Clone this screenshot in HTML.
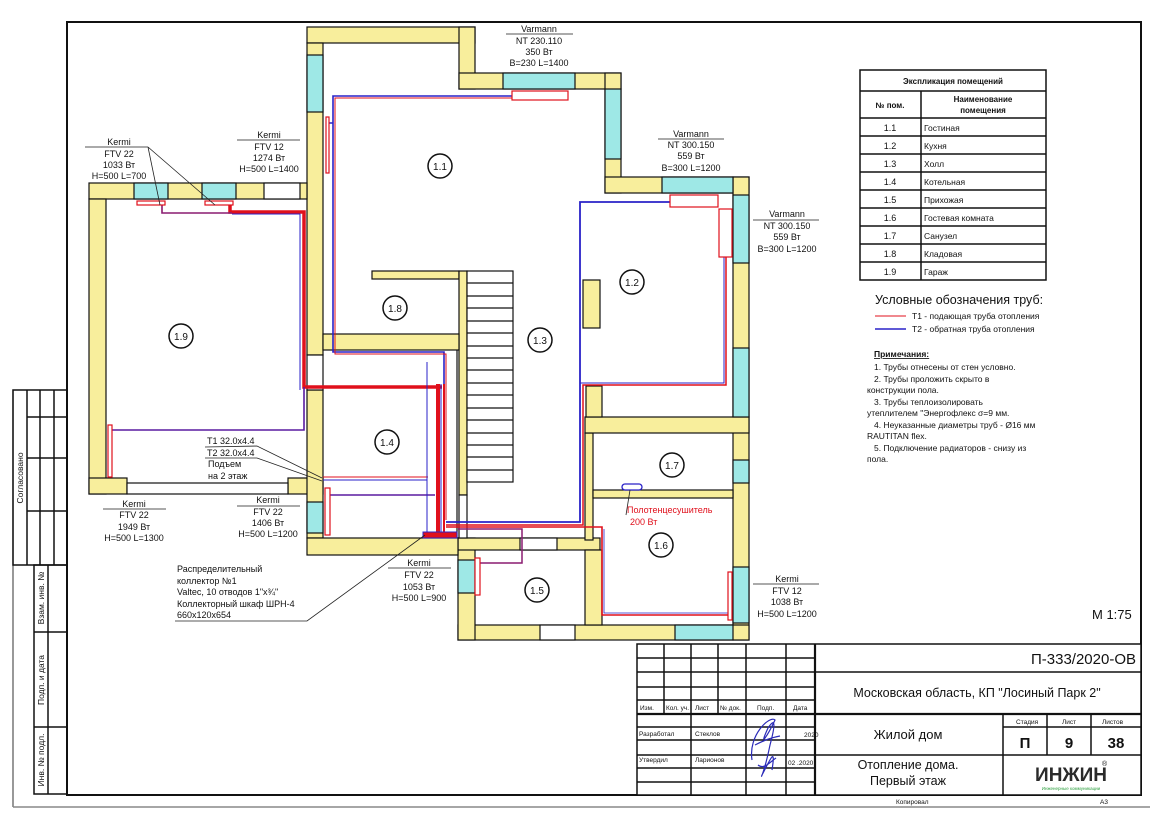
<!DOCTYPE html>
<html><head><meta charset="utf-8"><style>
html,body{margin:0;padding:0;background:#fff}
svg{display:block}
text{font-family:"Liberation Sans",sans-serif;fill:#111}
</style></head><body>
<svg width="1166" height="816" viewBox="0 0 1166 816" xmlns="http://www.w3.org/2000/svg">
<rect width="1166" height="816" fill="#fff"/>
<!-- frame -->
<rect x="67" y="22" width="1074" height="773" fill="none" stroke="#111" stroke-width="2"/>
<line x1="13" y1="390" x2="13" y2="807" stroke="#555" stroke-width="1.2"/>
<line x1="13" y1="807" x2="1150" y2="807" stroke="#888" stroke-width="1.5"/>
<g stroke="#111" stroke-width="1.5" fill="none">
<rect x="13" y="390" width="54" height="175"/>
<line x1="27" y1="390" x2="27" y2="565"/><line x1="40" y1="390" x2="40" y2="565"/><line x1="54" y1="390" x2="54" y2="565"/>
<line x1="27" y1="417" x2="67" y2="417"/><line x1="27" y1="458" x2="67" y2="458"/><line x1="27" y1="511" x2="67" y2="511"/>
<rect x="34" y="565" width="33" height="229"/>
<line x1="48" y1="565" x2="48" y2="794"/>
<line x1="34" y1="632" x2="67" y2="632"/><line x1="34" y1="727" x2="67" y2="727"/>
</g>
<g font-size="8.5">
<text transform="translate(23,478) rotate(-90)" text-anchor="middle">Согласовано</text>
<text transform="translate(44,598) rotate(-90)" text-anchor="middle">Взам. инв. №</text>
<text transform="translate(44,680) rotate(-90)" text-anchor="middle">Подп. и дата</text>
<text transform="translate(44,760) rotate(-90)" text-anchor="middle">Инв. № подл.</text>
</g>

<!-- walls -->
<g stroke="#111" stroke-width="1.2">
<g fill="#f8ee9c">
<rect x="307" y="27" width="168" height="16"/>
<rect x="307" y="43" width="16" height="312"/>
<rect x="459" y="27" width="16" height="62"/>
<rect x="459" y="73" width="162" height="16"/>
<rect x="605" y="73" width="16" height="120"/>
<rect x="605" y="177" width="144" height="16"/>
<rect x="733" y="177" width="16" height="463"/>
<rect x="458" y="625" width="291" height="15"/>
<rect x="458" y="538" width="17" height="102"/>
<rect x="458" y="538" width="142" height="12"/>
<rect x="585" y="550" width="17" height="75"/>
<rect x="585" y="433" width="8" height="107"/>
<rect x="593" y="490" width="140" height="8"/>
<rect x="585" y="417" width="164" height="16"/>
<rect x="586" y="386" width="16" height="31"/>
<rect x="583" y="280" width="17" height="48"/>
<rect x="89" y="183" width="218" height="16"/>
<rect x="89" y="199" width="17" height="295"/>
<rect x="89" y="478" width="38" height="16"/>
<rect x="288" y="478" width="35" height="16"/>
<rect x="307" y="390" width="16" height="148"/>
<rect x="307" y="538" width="151" height="17"/>
<rect x="372" y="271" width="87" height="8"/>
<rect x="459" y="271" width="8" height="224"/>
<rect x="323" y="334" width="136" height="16"/>
</g>
<g fill="#9ee8e6">
<rect x="307" y="55" width="16" height="57"/>
<rect x="503" y="73" width="72" height="16"/>
<rect x="605" y="89" width="16" height="70"/>
<rect x="662" y="177" width="71" height="16"/>
<rect x="733" y="195" width="16" height="68"/>
<rect x="733" y="348" width="16" height="69"/>
<rect x="733" y="460" width="16" height="23"/>
<rect x="733" y="567" width="16" height="56"/>
<rect x="675" y="625" width="58" height="15"/>
<rect x="458" y="560" width="17" height="33"/>
<rect x="134" y="183" width="34" height="16"/>
<rect x="202" y="183" width="34" height="16"/>
<rect x="307" y="502" width="16" height="31"/>
</g>
<g fill="#fff">
<rect x="540" y="625" width="35" height="15"/>
<rect x="520" y="538" width="37" height="12"/>
<rect x="264" y="183" width="36" height="16"/>
<rect x="127" y="483" width="161" height="11"/>
<rect x="307" y="355" width="16" height="35"/>
<rect x="459" y="495" width="8" height="43"/>
</g>
<rect x="467" y="271" width="46" height="211" fill="#fff"/>
</g>
<g stroke="#111" stroke-width="1.2">
<line x1="467" y1="283" x2="513" y2="283"/><line x1="467" y1="296" x2="513" y2="296"/><line x1="467" y1="308" x2="513" y2="308"/><line x1="467" y1="321" x2="513" y2="321"/><line x1="467" y1="333" x2="513" y2="333"/><line x1="467" y1="346" x2="513" y2="346"/><line x1="467" y1="358" x2="513" y2="358"/><line x1="467" y1="370" x2="513" y2="370"/><line x1="467" y1="383" x2="513" y2="383"/><line x1="467" y1="395" x2="513" y2="395"/><line x1="467" y1="408" x2="513" y2="408"/><line x1="467" y1="420" x2="513" y2="420"/><line x1="467" y1="433" x2="513" y2="433"/><line x1="467" y1="445" x2="513" y2="445"/><line x1="467" y1="457" x2="513" y2="457"/><line x1="467" y1="470" x2="513" y2="470"/>
<line x1="457" y1="350" x2="457" y2="538"/>
</g>

<!-- pipes -->
<g fill="none" stroke-linejoin="miter">
<!-- 1.1 -->
<polyline points="444,520 444,352 333,352 333,96 512,96" stroke="#2a22c8" stroke-width="1.6"/>
<polyline points="446,520 446,354 335,354 335,98 512,98" stroke="#e0101c" stroke-width="1"/>
<line x1="329" y1="123" x2="333" y2="123" stroke="#2a22c8" stroke-width="1.5"/>
<!-- 1.9 -->
<polyline points="442,387 304,387 304,212 230,212 230,205" stroke="#e0101c" stroke-width="3.5"/>
<polyline points="300,390 300,214 232,214" stroke="#2a22c8" stroke-width="1"/>
<polyline points="232,213 162,213 162,205" stroke="#8a1c70" stroke-width="1.6"/>
<polyline points="304,387 304,430 112,430" stroke="#5a1ca0" stroke-width="1.6"/>
<!-- bundle -->
<line x1="438" y1="384" x2="438" y2="535" stroke="#e0101c" stroke-width="4"/>
<line x1="441" y1="384" x2="441" y2="535" stroke="#2a22c8" stroke-width="1"/>
<line x1="444" y1="384" x2="444" y2="535" stroke="#e0101c" stroke-width="2"/>
<!-- 1.4 -->
<polyline points="435,495 330,495" stroke="#5a1ca0" stroke-width="1.5"/>
<line x1="323" y1="477" x2="428" y2="477" stroke="#e0101c" stroke-width="1"/>
<line x1="323" y1="480" x2="427" y2="480" stroke="#2a22c8" stroke-width="1"/>
<line x1="427" y1="362" x2="427" y2="535" stroke="#2a22c8" stroke-width="1"/>
<!-- 1.2 -->
<polyline points="446,522 580,522 580,202 670,202" stroke="#2a22c8" stroke-width="1.8"/>
<polyline points="446,525 583,525 583,385 726,385 726,257" stroke="#e0101c" stroke-width="1.5"/>
<polyline points="580,383 724,383 724,257" stroke="#2a22c8" stroke-width="1"/>
<!-- 1.6 -->
<polyline points="446,527 602,527 602,615 728,615" stroke="#e0101c" stroke-width="1.6"/>
<polyline points="604,529 604,613 728,613" stroke="#2a22c8" stroke-width="0.8"/>
<!-- 1.5 -->
<polyline points="458,529 522,529 522,563 480,563" stroke="#8a1c70" stroke-width="1.5"/>
</g>
<!-- radiators -->
<g fill="#fff" stroke="#e0101c" stroke-width="1.2">
<rect x="512" y="91" width="56" height="9"/>
<rect x="326" y="117" width="3" height="56"/>
<rect x="137" y="201" width="28" height="4"/>
<rect x="205" y="201" width="28" height="4"/>
<rect x="108" y="425" width="4" height="52"/>
<rect x="325" y="488" width="5" height="47"/>
<rect x="670" y="195" width="48" height="12"/>
<rect x="719" y="209" width="13" height="48"/>
<rect x="728" y="572" width="4" height="48"/>
<rect x="475" y="558" width="5" height="37"/>
</g>
<rect x="423" y="532" width="34" height="6" fill="#e0101c" stroke="#2a22c8" stroke-width="1"/>
<rect x="622" y="484" width="20" height="6" rx="3" fill="#fff" stroke="#2a22c8" stroke-width="1.3"/>

<!-- leaders -->
<g stroke="#222" stroke-width="0.8" fill="none">
<line x1="148" y1="147" x2="160" y2="205"/>
<line x1="148" y1="147" x2="215" y2="205"/>
<polyline points="205,447 257,446 322,478"/>
<polyline points="205,458 257,458 322,481"/>
<polyline points="175,621 307,621 425,535"/>
<line x1="630" y1="490" x2="626" y2="515"/>
</g>
<g stroke="#555" stroke-width="1">
<line x1="85" y1="147" x2="148" y2="147"/>
<line x1="237" y1="140" x2="300" y2="140"/>
<line x1="506" y1="34" x2="573" y2="34"/>
<line x1="658" y1="139" x2="724" y2="139"/>
<line x1="753" y1="220" x2="819" y2="220"/>
<line x1="103" y1="509" x2="166" y2="509"/>
<line x1="237" y1="506" x2="300" y2="506"/>
<line x1="388" y1="568" x2="451" y2="568"/>
<line x1="753" y1="584" x2="819" y2="584"/>
</g>
<g font-size="9" text-anchor="middle">
<text x="119" y="145">Kermi</text><text x="119" y="157">FTV 22</text><text x="119" y="168">1033 Вт</text><text x="119" y="179">H=500 L=700</text>
<text x="269" y="138">Kermi</text><text x="269" y="150">FTV 12</text><text x="269" y="161">1274 Вт</text><text x="269" y="172">H=500 L=1400</text>
<text x="539" y="32">Varmann</text><text x="539" y="44">NT 230.110</text><text x="539" y="55">350 Вт</text><text x="539" y="66">B=230 L=1400</text>
<text x="691" y="137">Varmann</text><text x="691" y="148">NT 300.150</text><text x="691" y="159">559 Вт</text><text x="691" y="171">B=300 L=1200</text>
<text x="787" y="217">Varmann</text><text x="787" y="229">NT 300.150</text><text x="787" y="240">559 Вт</text><text x="787" y="252">B=300 L=1200</text>
<text x="134" y="507">Kermi</text><text x="134" y="518">FTV 22</text><text x="134" y="530">1949 Вт</text><text x="134" y="541">H=500 L=1300</text>
<text x="268" y="503">Kermi</text><text x="268" y="515">FTV 22</text><text x="268" y="526">1406 Вт</text><text x="268" y="537">H=500 L=1200</text>
<text x="419" y="566">Kermi</text><text x="419" y="578">FTV 22</text><text x="419" y="590">1053 Вт</text><text x="419" y="601">H=500 L=900</text>
<text x="787" y="582">Kermi</text><text x="787" y="594">FTV 12</text><text x="787" y="605">1038 Вт</text><text x="787" y="617">H=500 L=1200</text>
</g>
<g font-size="9">
<text x="207" y="444">Т1 32.0х4.4</text><text x="207" y="456">Т2 32.0х4.4</text>
<text x="208" y="467">Подъем</text><text x="208" y="479">на 2 этаж</text>
<text x="177" y="572">Распределительный</text><text x="177" y="584">коллектор №1</text>
<text x="177" y="595">Valtec, 10 отводов 1"х¾"</text><text x="177" y="607">Коллекторный шкаф ШРН-4</text>
<text x="177" y="618">660х120х654</text>
<text x="627" y="513" style="fill:#e0101c">Полотенцесушитель</text>
<text x="630" y="525" style="fill:#e0101c">200 Вт</text>
</g>
<!-- room circles -->
<g fill="#fff" stroke="#111" stroke-width="1.5">
<circle cx="440" cy="166" r="12"/><circle cx="395" cy="308" r="12"/><circle cx="181" cy="336" r="12"/>
<circle cx="540" cy="340" r="12"/><circle cx="632" cy="282" r="12"/><circle cx="387" cy="442" r="12"/>
<circle cx="672" cy="465" r="12"/><circle cx="537" cy="590" r="12"/><circle cx="661" cy="545" r="12"/>
</g>
<g font-size="10" text-anchor="middle">
<text x="440" y="170">1.1</text><text x="395" y="312">1.8</text><text x="181" y="340">1.9</text>
<text x="540" y="344">1.3</text><text x="632" y="286">1.2</text><text x="387" y="446">1.4</text>
<text x="672" y="469">1.7</text><text x="537" y="594">1.5</text><text x="661" y="549">1.6</text>
</g>

<!-- explication -->
<g stroke="#111" stroke-width="1.5" fill="none">
<rect x="860" y="70" width="186" height="210"/>
<line x1="860" y1="91" x2="1046" y2="91"/>
<line x1="921" y1="91" x2="921" y2="280"/>
<line x1="860" y1="118" x2="1046" y2="118"/>
<line x1="860" y1="136" x2="1046" y2="136"/><line x1="860" y1="154" x2="1046" y2="154"/><line x1="860" y1="172" x2="1046" y2="172"/><line x1="860" y1="190" x2="1046" y2="190"/><line x1="860" y1="208" x2="1046" y2="208"/><line x1="860" y1="226" x2="1046" y2="226"/><line x1="860" y1="244" x2="1046" y2="244"/><line x1="860" y1="262" x2="1046" y2="262"/>
</g>
<g font-size="8" font-weight="bold" text-anchor="middle">
<text x="953" y="84">Экспликация помещений</text>
<text x="890" y="108">№ пом.</text>
<text x="983" y="102">Наименование</text><text x="983" y="113">помещения</text>
</g>
<g font-size="9" text-anchor="middle">
<text x="890" y="131">1.1</text><text x="890" y="149">1.2</text><text x="890" y="167">1.3</text><text x="890" y="185">1.4</text><text x="890" y="203">1.5</text><text x="890" y="221">1.6</text><text x="890" y="239">1.7</text><text x="890" y="257">1.8</text><text x="890" y="275">1.9</text>
</g>
<g font-size="8.5">
<text x="924" y="131">Гостиная</text><text x="924" y="149">Кухня</text><text x="924" y="167">Холл</text><text x="924" y="185">Котельная</text><text x="924" y="203">Прихожая</text><text x="924" y="221">Гостевая комната</text><text x="924" y="239">Санузел</text><text x="924" y="257">Кладовая</text><text x="924" y="275">Гараж</text>
</g>
<text x="875" y="304" font-size="12.5">Условные обозначения  труб:</text>
<line x1="875" y1="316" x2="906" y2="316" stroke="#e0101c" stroke-width="1"/>
<line x1="875" y1="329" x2="906" y2="329" stroke="#2a22c8" stroke-width="1.5"/>
<g font-size="8.5">
<text x="912" y="319">Т1 - подающая труба отопления</text>
<text x="912" y="332">Т2 - обратная труба отопления</text>
<text x="874" y="357" font-weight="bold" text-decoration="underline">Примечания:</text>
<text x="874" y="370">  1.    Трубы отнесены от стен условно.</text>
<text x="874" y="382">  2.    Трубы проложить скрыто в</text>
<text x="867" y="393">конструкции пола.</text>
<text x="874" y="405">  3.    Трубы теплоизолировать</text>
<text x="867" y="416">утеплителем "Энергофлекс σ=9 мм.</text>
<text x="874" y="428">  4.    Неуказанные диаметры труб - Ø16 мм</text>
<text x="867" y="439">RAUTITAN flex.</text>
<text x="874" y="451">  5.    Подключение радиаторов - снизу из</text>
<text x="867" y="462">пола.</text>
</g>
<text x="1092" y="619" font-size="13">М 1:75</text>

<!-- title block -->
<g stroke="#111" stroke-width="1.5" fill="none">
<rect x="637" y="644" width="504" height="151" fill="#fff"/>
<line x1="815" y1="644" x2="815" y2="795" stroke-width="2.2"/>
<line x1="637" y1="658" x2="815" y2="658"/><line x1="637" y1="672" x2="1141" y2="672"/>
<line x1="637" y1="687" x2="815" y2="687"/><line x1="637" y1="700" x2="815" y2="700"/>
<line x1="637" y1="714" x2="1141" y2="714" stroke-width="2.2"/>
<line x1="637" y1="727" x2="815" y2="727"/><line x1="637" y1="740" x2="815" y2="740"/>
<line x1="637" y1="755" x2="1141" y2="755"/><line x1="637" y1="768" x2="815" y2="768"/><line x1="637" y1="782" x2="815" y2="782"/>
<line x1="664" y1="644" x2="664" y2="714"/><line x1="718" y1="644" x2="718" y2="714"/>
<line x1="691" y1="644" x2="691" y2="795"/><line x1="746" y1="644" x2="746" y2="795"/><line x1="786" y1="644" x2="786" y2="795"/>
<line x1="1003" y1="714" x2="1003" y2="795"/><line x1="1047" y1="714" x2="1047" y2="755"/><line x1="1091" y1="714" x2="1091" y2="755"/>
<line x1="1003" y1="727" x2="1141" y2="727"/>
</g>
<g font-size="6.5">
<text x="640" y="710">Изм.</text><text x="666" y="710">Кол. уч.</text><text x="695" y="710">Лист</text><text x="720" y="710">№ док.</text><text x="757" y="710">Подп.</text><text x="793" y="710">Дата</text>
<text x="639" y="736">Разработал</text><text x="695" y="736">Стеклов</text><text x="804" y="737">2020</text>
<text x="639" y="762">Утвердил</text><text x="695" y="762">Ларионов</text><text x="788" y="765">02 .2020</text>
<text x="1016" y="724">Стадия</text><text x="1062" y="724">Лист</text><text x="1102" y="724">Листов</text>
<text x="896" y="804">Копировал</text><text x="1100" y="804">А3</text>
</g>
<text x="1136" y="664" font-size="15" text-anchor="end">П-333/2020-ОВ</text>
<text x="977" y="697" font-size="12.5" text-anchor="middle">Московская область, КП "Лосиный Парк 2"</text>
<text x="908" y="739" font-size="13" text-anchor="middle">Жилой дом</text>
<text x="908" y="769" font-size="12.5" text-anchor="middle">Отопление дома.</text>
<text x="908" y="785" font-size="12.5" text-anchor="middle">Первый этаж</text>
<g font-size="15" font-weight="bold" text-anchor="middle">
<text x="1025" y="748">П</text><text x="1069" y="748">9</text><text x="1116" y="748">38</text>
</g>
<text x="1071" y="781" font-size="19" font-weight="bold" text-anchor="middle" style="fill:#2a2a2a">ИНЖИН</text>
<text x="1102" y="766" font-size="7">®</text>
<text x="1071" y="790" font-size="4.5" text-anchor="middle" style="fill:#2ea040">Инженерные коммуникации</text>
<!-- signature -->
<g fill="none" stroke="#2a2ab8" stroke-width="1.2">
<path d="M752,760 C748,735 770,715 775,720 C768,735 758,750 768,728 C772,722 778,715 770,745 C765,770 760,780 762,775 C770,760 776,745 772,770 M755,745 C765,740 770,738 780,736 M758,765 C764,770 770,762 776,758"/>
</g>
</svg>
</body></html>
